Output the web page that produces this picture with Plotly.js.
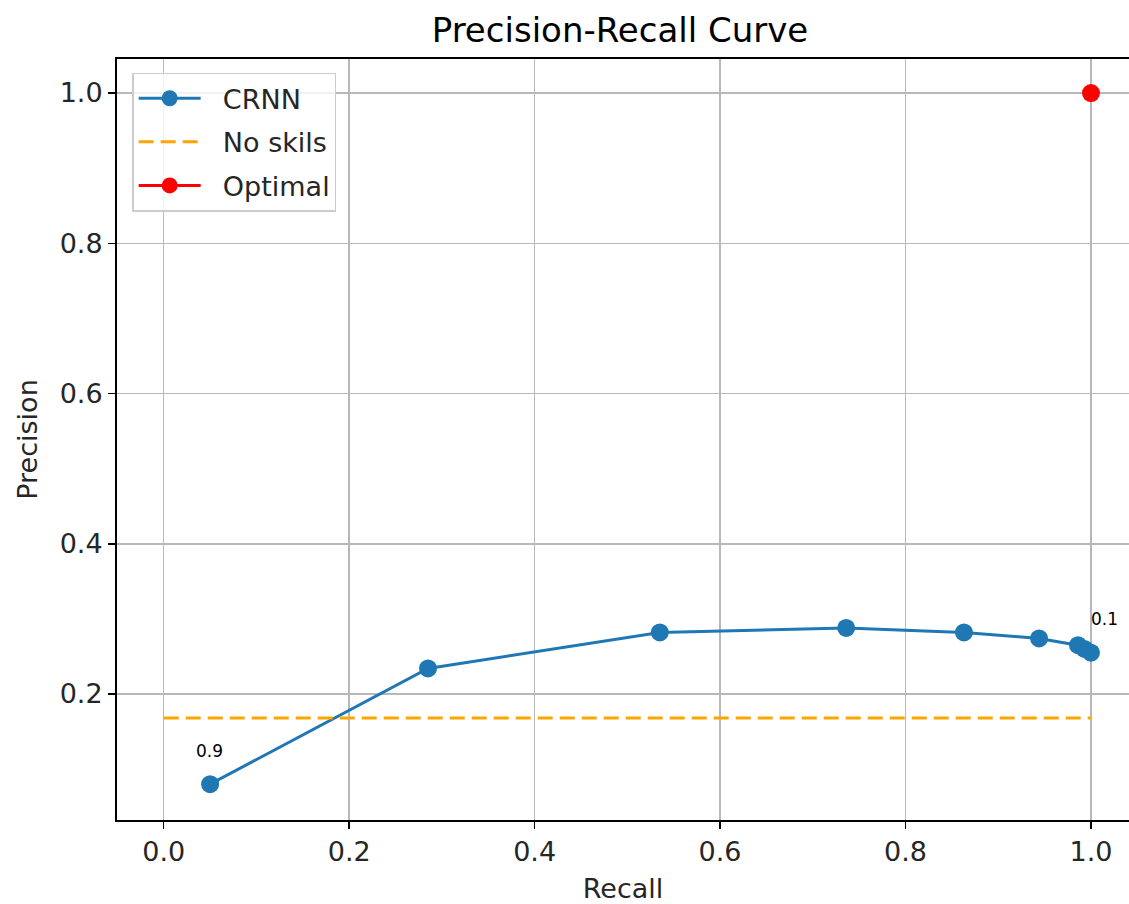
<!DOCTYPE html>
<html>
<head>
<meta charset="utf-8">
<script src="https://cdn.plot.ly/plotly-3.0.1.min.js"></script>
<style>
  html, body { margin: 0; padding: 0; background: #fff; overflow: hidden; }
  #chart { width: 1129px; height: 904px; }
</style>
</head>
<body>
<div id="chart"></div>
<script>
// Precision / recall pairs of the CRNN model, one per decision threshold
const thresholds = [0.9, 0.8, 0.7, 0.6, 0.5, 0.4, 0.3, 0.2, 0.1];
const recall     = [0.050, 0.285, 0.535, 0.736, 0.863, 0.944, 0.986, 0.993, 1.000];
const precision  = [0.080, 0.234, 0.282, 0.288, 0.282, 0.274, 0.265, 0.260, 0.255];

// Baseline of a classifier without skill (share of positives)
const noSkillRecall    = [0, 1];
const noSkillPrecision = [0.168, 0.168];

// Perfect classifier
const optimalRecall    = [1];
const optimalPrecision = [1];

// Thresholds written next to the curve ends
const labelledThresholds = [0.9, 0.1];

// Legend entries
const seriesNames = ['CRNN', 'No skils', 'Optimal'];

const FONT = 'DejaVu Sans, Liberation Sans, sans-serif';
const TEXT = '#262626';
const PAD = '\u00a0\u00a0';   // gap between legend sample and its text

const traces = [
  {
    x: recall, y: precision, name: PAD + seriesNames[0], legendgroup: 'g1',
    mode: 'lines+markers', type: 'scatter',
    line: { color: '#1f77b4', width: 3 },
    marker: { color: '#1f77b4', size: 18 }
  },
  {
    x: noSkillRecall, y: noSkillPrecision, name: PAD + seriesNames[1], legendgroup: 'g2',
    mode: 'lines', type: 'scatter',
    line: { color: '#ffa500', width: 3, dash: '15px,7px' }
  },
  {
    x: optimalRecall, y: optimalPrecision, name: PAD + seriesNames[2], legendgroup: 'g3',
    mode: 'lines+markers', type: 'scatter',
    line: { color: '#ff0000', width: 3 },
    marker: { color: '#ff0000', size: 18 }
  }
];

const annotations = labelledThresholds.map((t, k) => {
  const i = thresholds.indexOf(t);
  return {
    x: recall[i], y: precision[i], xref: 'x', yref: 'y',
    text: String(t), showarrow: false,
    xanchor: 'center', yanchor: 'middle',
    xshift: k === 0 ? -1 : 14, yshift: k === 0 ? 33 : 34,
    font: { family: FONT, size: 17, color: '#000' }
  };
});

const axisCommon = {
  showline: true, linecolor: '#000', linewidth: 2,
  showgrid: true, gridcolor: '#b8b8b8', gridwidth: 1.5,
  zeroline: false,
  ticks: 'outside', ticklen: 7, tickwidth: 1.5, tickcolor: '#000',
  tickfont: { family: FONT, size: 27, color: TEXT }
};

const layout = {
  width: 1129, height: 904,
  margin: { l: 117, r: 0, t: 59, b: 84 },
  paper_bgcolor: '#fff', plot_bgcolor: '#fff',
  showlegend: true,
  title: {
    text: 'Precision-Recall Curve',
    font: { family: FONT, size: 34, color: '#000' },
    xref: 'container', x: 620 / 1129, xanchor: 'center',
    yref: 'container', y: 1 - 30 / 904, yanchor: 'middle'
  },
  xaxis: Object.assign({}, axisCommon, {
    range: [-0.0504, 1.041],
    tickvals: [0, 0.2, 0.4, 0.6, 0.8, 1.0],
    ticktext: ['0.0', '0.2', '0.4', '0.6', '0.8', '1.0'],
    mirror: true,
    title: { text: 'Recall', font: { family: FONT, size: 27, color: TEXT }, standoff: 14 }
  }),
  yaxis: Object.assign({}, axisCommon, {
    range: [0.0323, 1.0453],
    tickvals: [0.2, 0.4, 0.6, 0.8, 1.0],
    ticktext: ['0.2', '0.4', '0.6', '0.8', '1.0'],
    title: { text: 'Precision', font: { family: FONT, size: 27, color: TEXT }, standoff: 14 }
  }),
  legend: {
    x: 0.015, y: 0.982, xanchor: 'left', yanchor: 'top',
    bgcolor: 'rgba(255,255,255,0.8)', bordercolor: '#cccccc', borderwidth: 1.5,
    font: { family: FONT, size: 27, color: TEXT },
    itemwidth: 62,
    tracegroupgap: 5.5
  },
  annotations: annotations
};

Plotly.newPlot('chart', traces, layout, { displayModeBar: false, staticPlot: true });
</script>
</body>
</html>
